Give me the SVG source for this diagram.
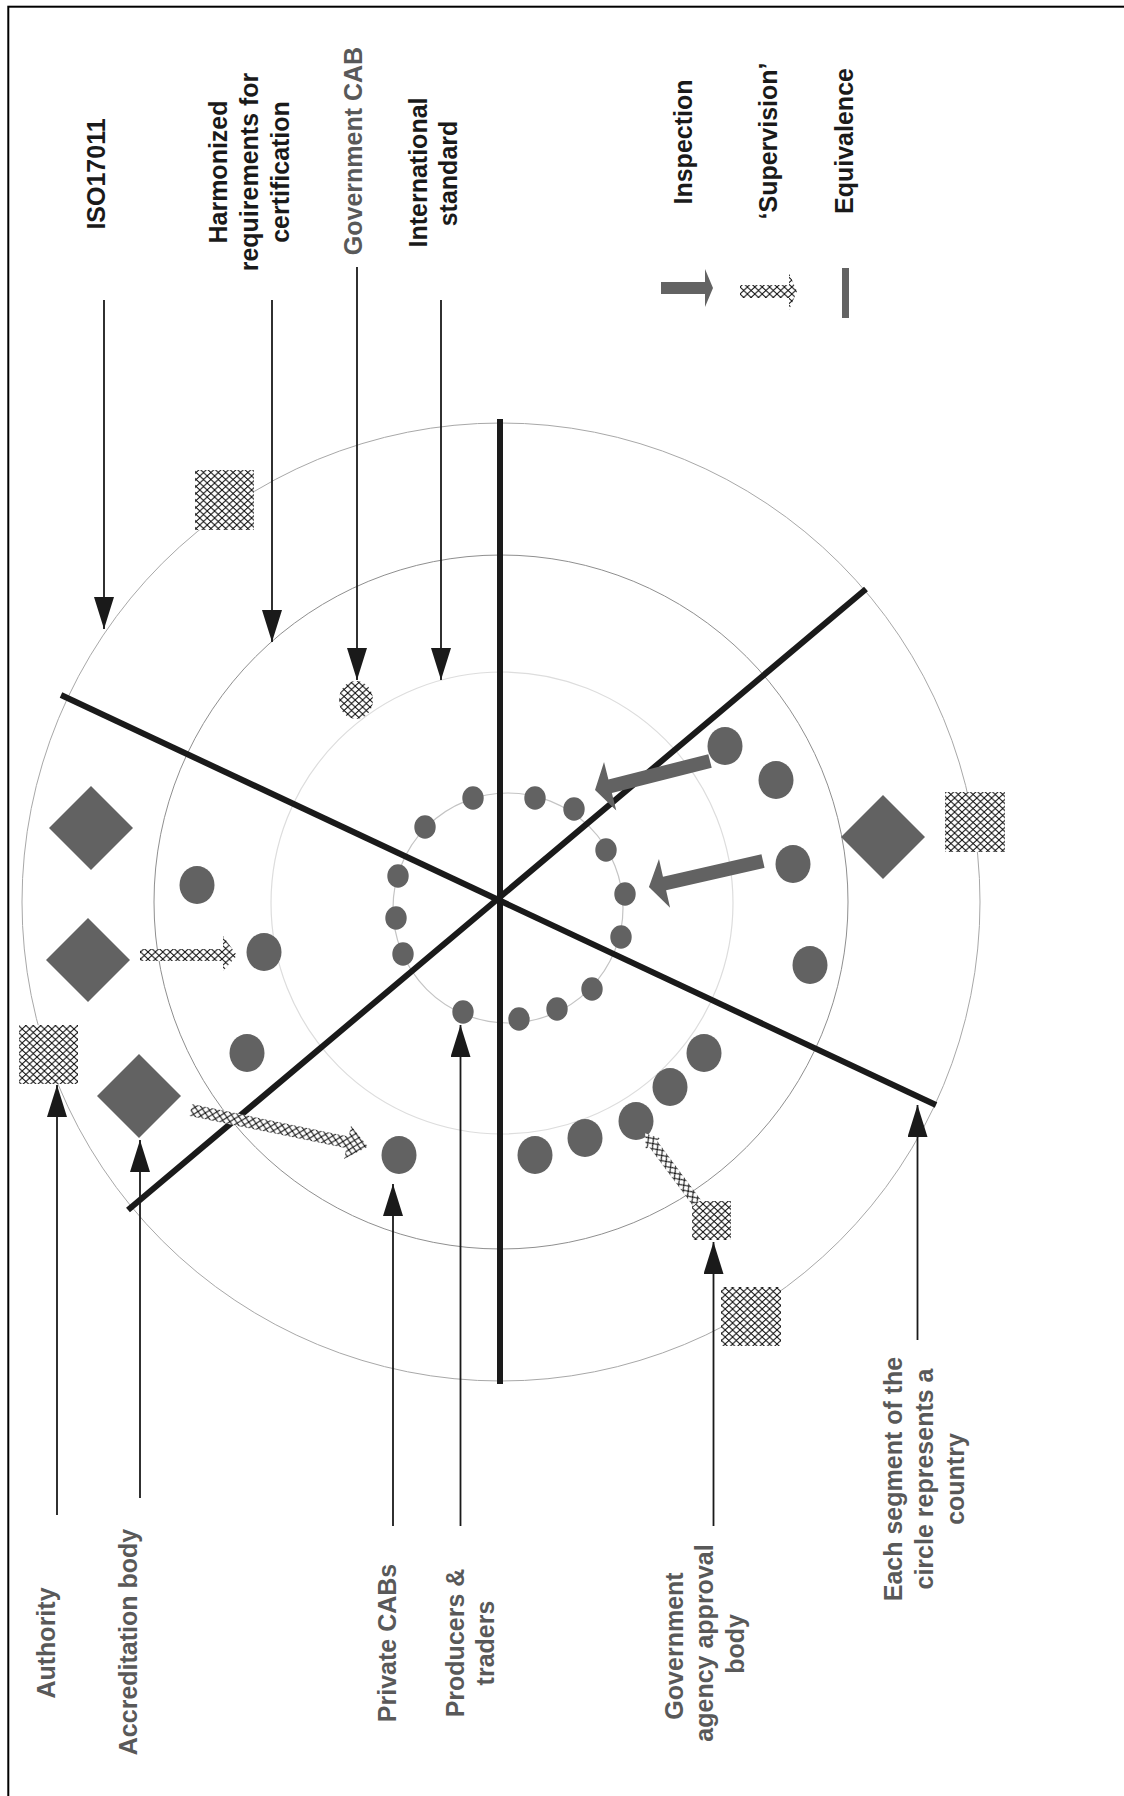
<svg xmlns="http://www.w3.org/2000/svg" width="1124" height="1796" viewBox="0 0 1124 1796">
  <style>
    .lbl { font-family: "Liberation Sans", Arial, sans-serif; font-weight: bold; font-size: 25px; fill: #1a1a1a; }
    .lbl2 { font-family: "Liberation Sans", Arial, sans-serif; font-weight: bold; font-size: 25px; fill: #595959; }
    .ring { fill: none; }
    .sect { stroke: #1a1a1a; stroke-width: 6; }
    .ptr { stroke: #1a1a1a; stroke-width: 1.8; fill: none; }
    .gray { fill: #626262; }
    .hatch { fill: url(#hatch); }
  </style>
  <defs>
    <pattern id="hatch" width="7.4" height="7" patternUnits="userSpaceOnUse">
      <rect width="7.4" height="7" fill="#ffffff"/>
      <path d="M0,0 L7.4,7 M7.4,0 L0,7" stroke="#111" stroke-width="1"/>
    </pattern>
    <marker id="ah" markerUnits="userSpaceOnUse" markerWidth="32" markerHeight="20" refX="32" refY="10" orient="auto">
      <path d="M0,0 L32,10 L0,20 Z" fill="#1a1a1a"/>
    </marker>
  </defs>

  <rect x="8.3" y="6.7" width="1130" height="1800" fill="#ffffff" stroke="#000" stroke-width="2"/>

  <!-- rings -->
  <g id="rings">
    <circle class="ring" cx="501" cy="902" r="479" stroke="#a8a8a8" stroke-width="1"/>
    <circle class="ring" cx="501" cy="902" r="347" stroke="#8f8f8f" stroke-width="1"/>
    <circle class="ring" cx="502" cy="903" r="231" stroke="#dddddd" stroke-width="1.2"/>
    <circle class="ring" cx="508" cy="908" r="115" stroke="#c4c4c4" stroke-width="1.2"/>
  </g>

  <!-- segment dividers -->
  <g id="dividers">
    <line class="sect" x1="500" y1="419" x2="500" y2="1384"/>
    <line class="sect" x1="61" y1="695" x2="936" y2="1105"/>
    <line class="sect" x1="128" y1="1210" x2="866" y2="589"/>
  </g>

  <!-- authorities (hatched squares) -->
  <g id="authority-top"><rect class="hatch" x="195" y="470" width="59" height="60"/></g>
  <g id="authority-right"><rect class="hatch" x="945" y="792" width="60" height="60"/></g>
  <g id="authority-left"><rect class="hatch" x="19" y="1025" width="59" height="59"/></g>
  <g id="authority-bottom"><rect class="hatch" x="721" y="1287" width="60" height="59"/></g>
  <g id="gov-approval-body"><rect class="hatch" x="692" y="1201" width="39" height="39"/></g>
  <g id="gov-cab"><ellipse class="hatch" cx="356" cy="700" rx="17" ry="19"/></g>

  <!-- accreditation bodies (diamonds) -->
  <g id="accr-1"><polygon class="gray" points="91,786 133,828 91,870 49,828"/></g>
  <g id="accr-2"><polygon class="gray" points="88,918 130,960 88,1002 46,960"/></g>
  <g id="accr-3"><polygon class="gray" points="139,1054 181,1096 139,1138 97,1096"/></g>
  <g id="accr-4"><polygon class="gray" points="883,795 925,837 883,879 841,837"/></g>

  <!-- CABs (large circles) -->
  <g id="cabs" class="gray">
    <ellipse cx="197" cy="885" rx="17.5" ry="19"/>
    <ellipse cx="264" cy="952" rx="17.5" ry="19"/>
    <ellipse cx="247" cy="1053" rx="17.5" ry="19"/>
    <ellipse cx="399" cy="1155" rx="17.5" ry="19"/>
    <ellipse cx="535" cy="1155" rx="17.5" ry="19"/>
    <ellipse cx="585" cy="1138" rx="17.5" ry="19"/>
    <ellipse cx="636" cy="1121" rx="17.5" ry="19"/>
    <ellipse cx="670" cy="1087" rx="17.5" ry="19"/>
    <ellipse cx="704" cy="1053" rx="17.5" ry="19"/>
    <ellipse cx="810" cy="965" rx="17.5" ry="19"/>
    <ellipse cx="793" cy="864" rx="17.5" ry="19"/>
    <ellipse cx="776" cy="780" rx="17.5" ry="19"/>
    <ellipse cx="725" cy="746" rx="17.5" ry="19"/>
  </g>

  <!-- producers & traders (small dots) -->
  <g id="producers" class="gray">
    <ellipse cx="473" cy="798" rx="10.7" ry="11.8"/>
    <ellipse cx="535" cy="798" rx="10.7" ry="11.8"/>
    <ellipse cx="574" cy="809" rx="10.7" ry="11.8"/>
    <ellipse cx="606" cy="850" rx="10.7" ry="11.8"/>
    <ellipse cx="625" cy="894" rx="10.7" ry="11.8"/>
    <ellipse cx="621" cy="937" rx="10.7" ry="11.8"/>
    <ellipse cx="592" cy="989" rx="10.7" ry="11.8"/>
    <ellipse cx="557" cy="1009" rx="10.7" ry="11.8"/>
    <ellipse cx="519" cy="1019" rx="10.7" ry="11.8"/>
    <ellipse cx="463" cy="1012" rx="10.7" ry="11.8"/>
    <ellipse cx="403" cy="954" rx="10.7" ry="11.8"/>
    <ellipse cx="396" cy="918" rx="10.7" ry="11.8"/>
    <ellipse cx="398" cy="876" rx="10.7" ry="11.8"/>
    <ellipse cx="425" cy="827" rx="10.7" ry="11.8"/>
  </g>

  <!-- relation arrows -->
  <g id="connectors">
    <!-- inspection arrows -->
    <g transform="translate(710,761) rotate(165.8)">
      <polygon class="gray" points="0,-7 103,-7 103,-25 118.6,0 103,25 103,7 0,7"/>
    </g>
    <g transform="translate(763,861) rotate(167.15)">
      <polygon class="gray" points="0,-7 101,-7 101,-25 117,0 101,25 101,7 0,7"/>
    </g>
    <!-- supervision arrows -->
    <polygon class="hatch" points="140,949 223,949 223,936 237,955.5 223,971 223,961 140,961"/>
    <g transform="translate(190.8,1110) rotate(11.7)">
      <polygon class="hatch" points="0,-6 160,-6 160,-17 181,0 160,17 160,6 0,6"/>
    </g>
    <g transform="translate(697,1203) rotate(-126.6)">
      <polygon class="hatch" points="0,-5 74,-5 74,-9 87,0 74,9 74,5 0,5"/>
    </g>

    <!-- label pointers -->
    <line class="ptr" x1="104" y1="300" x2="104" y2="629" marker-end="url(#ah)"/>
    <line class="ptr" x1="272" y1="300" x2="272" y2="642" marker-end="url(#ah)"/>
    <line class="ptr" x1="357" y1="267" x2="357" y2="680" marker-end="url(#ah)"/>
    <line class="ptr" x1="441" y1="300" x2="441" y2="680" marker-end="url(#ah)"/>
    <line class="ptr" x1="57" y1="1515" x2="57" y2="1085" marker-end="url(#ah)"/>
    <line class="ptr" x1="140" y1="1498" x2="140" y2="1140" marker-end="url(#ah)"/>
    <line class="ptr" x1="393" y1="1526" x2="393" y2="1184" marker-end="url(#ah)"/>
    <line class="ptr" x1="460.5" y1="1526" x2="460.5" y2="1025" marker-end="url(#ah)"/>
    <line class="ptr" x1="713.5" y1="1526" x2="713.5" y2="1242" marker-end="url(#ah)"/>
    <line class="ptr" x1="917.5" y1="1340" x2="917.5" y2="1105" marker-end="url(#ah)"/>
  </g>

  <!-- legend -->
  <g id="legend">
    <polygon fill="#636363" points="661,282 705,282 705,269 713,288 705,307 705,294 661,294"/>
    <polygon class="hatch" points="740,285 789,285 789,273 797,291.5 789,310 789,298 740,298"/>
    <rect x="842" y="268" width="7" height="50" fill="#636363"/>
    <text class="lbl" transform="translate(692,142) rotate(-90)" text-anchor="middle">Inspection</text>
    <text class="lbl" transform="translate(777,141) rotate(-90)" text-anchor="middle">‘Supervision’</text>
    <text class="lbl" transform="translate(853,141) rotate(-90)" text-anchor="middle">Equivalence</text>
  </g>

  <!-- top labels -->
  <g id="label-iso">
    <text class="lbl" transform="translate(105,174) rotate(-90)" text-anchor="middle">ISO17011</text>
  </g>
  <g id="label-harmonized">
    <text class="lbl" transform="translate(226.5,172) rotate(-90)" text-anchor="middle">Harmonized</text>
    <text class="lbl" transform="translate(257.5,172) rotate(-90)" text-anchor="middle">requirements for</text>
    <text class="lbl" transform="translate(288.5,172) rotate(-90)" text-anchor="middle">certification</text>
  </g>
  <g id="label-govcab">
    <text class="lbl2" transform="translate(361.5,151) rotate(-90)" text-anchor="middle">Government CAB</text>
  </g>
  <g id="label-intl">
    <text class="lbl" transform="translate(426.5,172.5) rotate(-90)" text-anchor="middle">International</text>
    <text class="lbl" transform="translate(456.5,173.5) rotate(-90)" text-anchor="middle">standard</text>
  </g>

  <!-- bottom labels -->
  <g id="label-authority">
    <text class="lbl2" transform="translate(54.5,1643) rotate(-90)" text-anchor="middle">Authority</text>
  </g>
  <g id="label-accreditation">
    <text class="lbl2" transform="translate(136.5,1642) rotate(-90)" text-anchor="middle">Accreditation body</text>
  </g>
  <g id="label-private">
    <text class="lbl2" transform="translate(396,1643) rotate(-90)" text-anchor="middle">Private CABs</text>
  </g>
  <g id="label-producers">
    <text class="lbl2" transform="translate(464,1643) rotate(-90)" text-anchor="middle">Producers &amp;</text>
    <text class="lbl2" transform="translate(494,1643) rotate(-90)" text-anchor="middle">traders</text>
  </g>
  <g id="label-govagency">
    <text class="lbl2" transform="translate(682.5,1646) rotate(-90)" text-anchor="middle">Government</text>
    <text class="lbl2" transform="translate(713,1643) rotate(-90)" text-anchor="middle">agency approval</text>
    <text class="lbl2" transform="translate(743.5,1644) rotate(-90)" text-anchor="middle">body</text>
  </g>
  <g id="label-segment">
    <text class="lbl2" transform="translate(901.5,1479) rotate(-90)" text-anchor="middle">Each segment of the</text>
    <text class="lbl2" transform="translate(933,1479) rotate(-90)" text-anchor="middle">circle represents a</text>
    <text class="lbl2" transform="translate(964,1479) rotate(-90)" text-anchor="middle">country</text>
  </g>
</svg>
